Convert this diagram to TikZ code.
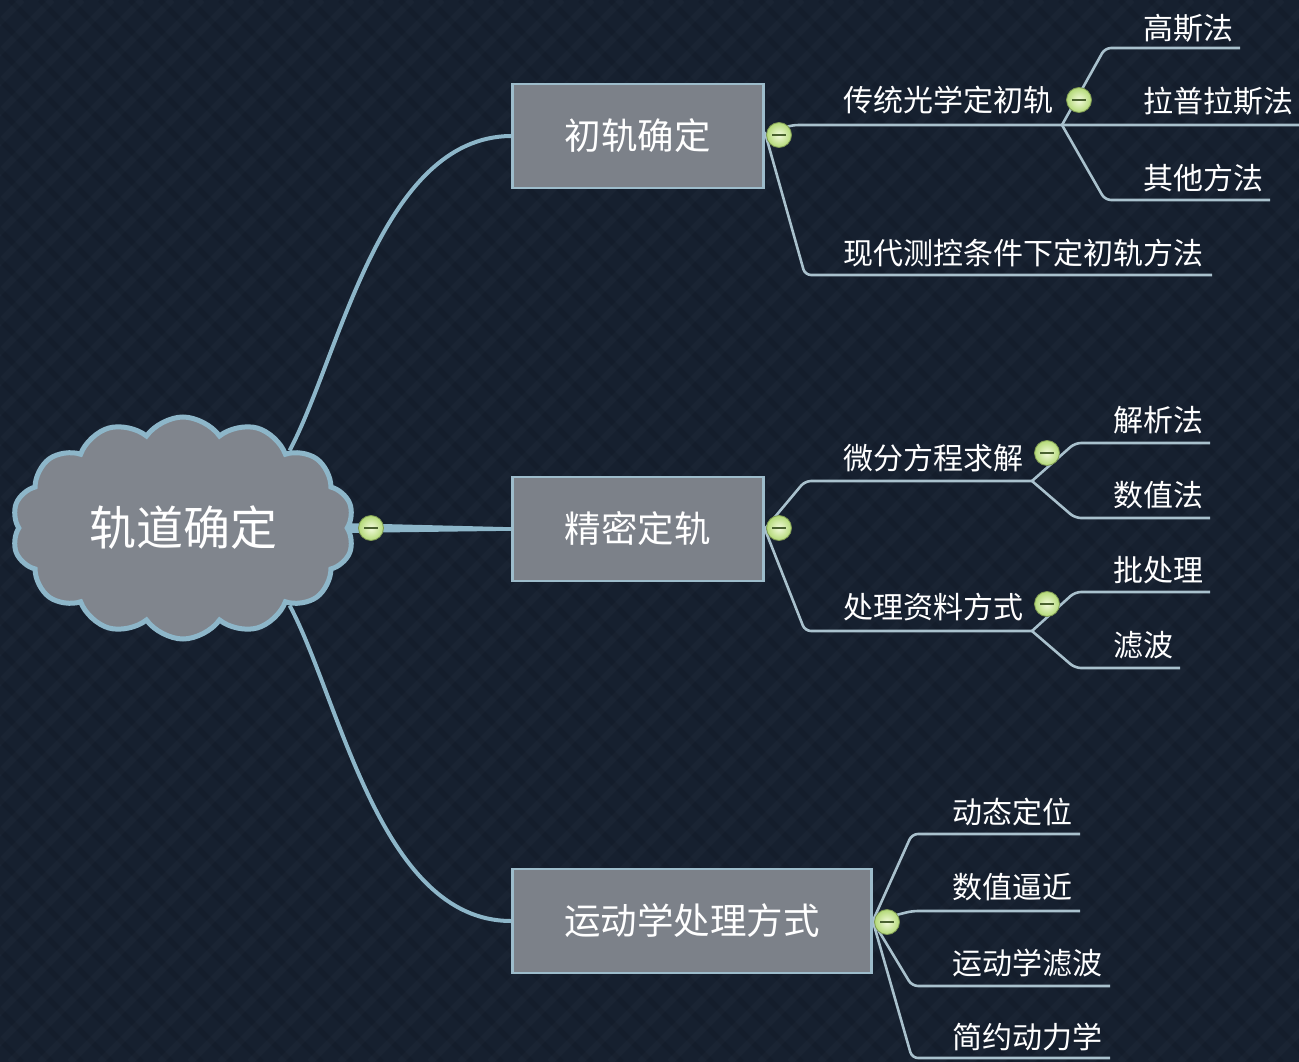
\documentclass[tikz,border=0pt]{standalone}
\usepackage{fontspec}
\newfontfamily\cjk{Noto Sans CJK SC}
\usetikzlibrary{shapes.symbols}
\pgfdeclarelayer{bg}\pgfdeclarelayer{lines}\pgfsetlayers{bg,lines,main}
\definecolor{bgc}{HTML}{16202F}
\definecolor{boxfill}{HTML}{7C8189}
\definecolor{cloudfill}{HTML}{80858D}
\definecolor{boxline}{HTML}{9DBCCB}
\definecolor{branch}{HTML}{8DB6C9}
\definecolor{thinc}{HTML}{A9C1CD}
\definecolor{iconin}{HTML}{F2FBDC}
\definecolor{iconout}{HTML}{B3D977}
\definecolor{icondark}{HTML}{4A6230}
\begin{document}
\begin{tikzpicture}[x=1pt,y=-1pt,
  cloudnode/.style={cloud, cloud puffs=14, cloud puff arc=110, aspect=1.55, draw=branch, line width=5, fill=cloudfill,
     minimum width=342, minimum height=222, text=white, font=\cjk\fontsize{47}{50}\selectfont, inner sep=0},
  mainbox/.style={draw=boxline, line width=2.8, fill=boxfill, text=white, font=\cjk\fontsize{36.5}{40}\selectfont,
     minimum height=104, inner sep=0, anchor=west},
  lab/.style={text=white, font=\cjk\fontsize{30}{32}\selectfont, inner sep=0, anchor=west},
  thinline/.style={draw=thinc, line width=2.6, rounded corners=6},
  branchline/.style={draw=branch, line width=4},
  icon/.style={circle, minimum size=25, inner sep=0, draw=iconout!70!black, line width=0.8, shading=radial,
     inner color=iconin, outer color=iconout,
     path picture={\draw[icondark, line width=1.8] ([xshift=-7]path picture bounding box.center) -- ([xshift=7]path picture bounding box.center);}}
]
\begin{pgfonlayer}{bg}
  \fill[bgc] (0,0) rectangle (1299,1062);
  \begin{scope}
    \clip (0,0) rectangle (1299,1062);
    \foreach \i in {-1100,-1070,...,1300} {
      \draw[white, opacity=0.02, line width=7] (\i,1062) -- (\i+1062,0);
      \draw[black, opacity=0.08, line width=5] (\i,0) -- (\i+1062,1062);
    }
  \end{scope}
\end{pgfonlayer}
\useasboundingbox (0,0) rectangle (1299,1062);

% main nodes
\node[cloudnode] (root) at (183,528) {轨道确定};
\node[mainbox, minimum width=251] (b1) at (511,136) {初轨确定};
\node[mainbox, minimum width=251] (b2) at (511,529) {精密定轨};
\node[mainbox, minimum width=359] (b3) at (511,921) {运动学处理方式};

% labels
\node[lab] (l11) at (843,100) {传统光学定初轨};
\node[lab] (l12) at (843,253) {现代测控条件下定初轨方法};
\node[lab] (l111) at (1143,28) {高斯法};
\node[lab] (l112) at (1143,101) {拉普拉斯法};
\node[lab] (l113) at (1143,178) {其他方法};
\node[lab] (l21) at (843,458) {微分方程求解};
\node[lab] (l22) at (843,607) {处理资料方式};
\node[lab] (l211) at (1113,420) {解析法};
\node[lab] (l212) at (1113,495) {数值法};
\node[lab] (l221) at (1113,570) {批处理};
\node[lab] (l222) at (1113,645) {滤波};
\node[lab] (l31) at (952,812) {动态定位};
\node[lab] (l32) at (952,887) {数值逼近};
\node[lab] (l33) at (952,963) {运动学滤波};
\node[lab] (l34) at (952,1037) {简约动力学};

% junction / underline coordinates
\coordinate (j1) at (1062,125);
\coordinate (j2) at (1032,481);
\coordinate (j3) at (1032,631);
\coordinate (e111) at (1240,48);
\coordinate (e112) at (1299,125);
\coordinate (e113) at (1270,200);
\coordinate (e12) at (1212,275);
\coordinate (e211) at (1210,443);
\coordinate (e212) at (1210,518);
\coordinate (e221) at (1210,592);
\coordinate (e222) at (1180,668);
\coordinate (e31) at (1080,834);
\coordinate (e32) at (1080,911);
\coordinate (e33) at (1110,986);
\coordinate (e34) at (1110,1058);

\begin{pgfonlayer}{lines}
  % root branches
  \draw[branchline] (root.36) .. controls (340,356) and (380,137) .. (b1.west);
  \draw[branchline] (root.-36) .. controls (340,700) and (380,921) .. (b3.west);
  \fill[branch] ([xshift=-8,yshift=-5]root.east) -- ([yshift=-1.8]b2.west) -- ([yshift=1.8]b2.west) -- ([xshift=-8,yshift=5]root.east) -- cycle;
  % level 2 of b1
  \draw[thinline] (b1.east) .. controls (780,128) and (790,125) .. (805,125) -- (j1) -- (e112);
  \draw[thinline] ([yshift=4]b1.east) -- (805,275) -- (e12);
  \draw[thinline] (j1) -- (1105,48) -- (e111);
  \draw[thinline] (j1) -- (1105,200) -- (e113);
  % level 2 of b2
  \draw[thinline] (b2.east) -- (805,481) -- (j2);
  \draw[thinline] (b2.east) -- (805,631) -- (j3);
  \draw[thinline] (j2) -- (1075,443) -- (e211);
  \draw[thinline] (j2) -- (1075,518) -- (e212);
  \draw[thinline] (j3) -- (1075,592) -- (e221);
  \draw[thinline] (j3) -- (1075,668) -- (e222);
  % level 2 of b3
  \draw[thinline] (b3.east) -- (912,834) -- (e31);
  \draw[thinline] (b3.east) -- (912,911) -- (e32);
  \draw[thinline] (b3.east) -- (912,986) -- (e33);
  \draw[thinline] (b3.east) -- (912,1058) -- (e34);
\end{pgfonlayer}

% collapse icons
\node[icon] (i0) at (371,528) {};
\node[icon] (i1) at (779,135) {};
\node[icon] (i2) at (779,528) {};
\node[icon] (i3) at (887,922) {};
\node[icon] (i11) at (1079,100) {};
\node[icon] (i21) at (1047,453) {};
\node[icon] (i22) at (1047,604) {};
\end{tikzpicture}
\end{document}
